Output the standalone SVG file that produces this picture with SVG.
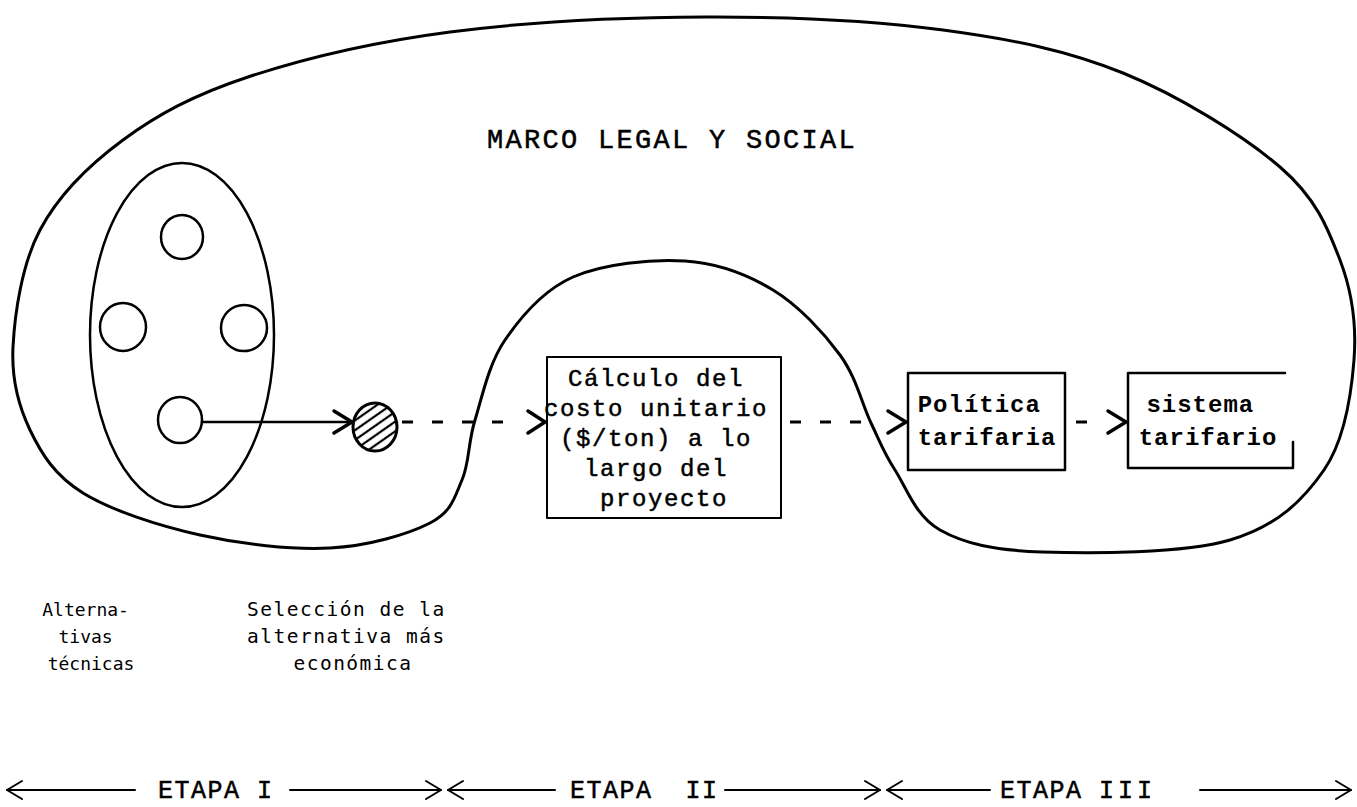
<svg xmlns="http://www.w3.org/2000/svg" width="1357" height="807" viewBox="0 0 1357 807">
<style>
.ln{fill:none;stroke:#000;stroke-linecap:round;stroke-linejoin:round}
.t{font-family:"Liberation Mono","Courier New",monospace;fill:#000;stroke:#000;stroke-width:0.5}
.tb{font-family:"Liberation Mono","Courier New",monospace;font-weight:bold;fill:#000}
.s{font-family:"DejaVu Sans Mono","Liberation Mono",monospace;fill:#000}
.dash{stroke-dasharray:11 19;stroke-linecap:butt}
</style>
<defs>
<pattern id="hatch" width="8" height="8" patternUnits="userSpaceOnUse" patternTransform="rotate(-35)">
<line x1="0" y1="4" x2="8" y2="4" stroke="#000" stroke-width="2.2"/>
</pattern>
</defs>
<rect width="1357" height="807" fill="#fff"/>
<g id="marco">
<path class="ln" stroke-width="3" d="M706,17 C788.2,16.7 873.5,20.7 943,30 C1012.5,39.3 1066.8,50.2 1123,73 C1179.2,95.8 1243.8,135.8 1280,167 C1316.2,198.2 1327.7,227.8 1340,260 C1352.3,292.2 1356.7,325 1354,360 C1351.3,395 1344.7,440 1324,470 C1303.3,500 1277,526.3 1230,540 C1183,553.7 1090.3,553.7 1042,552 C993.7,550.3 964.5,543.7 940,530 C915.5,516.3 906.5,487.8 895,470 C883.5,452.2 880.2,442.2 871,423 C861.8,403.8 856.3,377.2 840,355 C823.7,332.8 798.8,305.7 773,290 C747.2,274.3 718.3,263.2 685,261 C651.7,258.8 603,263.8 573,277 C543,290.2 521.3,316.2 505,340 C488.7,363.8 482.2,396.7 475,420 C467.8,443.3 469.5,462.8 462,480 C454.5,497.2 452,511.7 430,523 C408,534.3 368.3,546 330,548 C291.7,550 241.2,544.2 200,535 C158.8,525.8 111.3,510.5 83,493 C54.7,475.5 41.7,454.3 30,430 C18.3,405.7 11.3,380.3 13,347 C14.7,313.7 21.7,264.5 40,230 C58.3,195.5 88.3,165.5 123,140 C157.7,114.5 193.5,95 248,77 C302.5,59 373.7,42 450,32 C526.3,22 623.8,17.3 706,17 Z"/>
<text class="t" x="487" y="148" font-size="27" letter-spacing="2.3">MARCO LEGAL Y SOCIAL</text>
</g>
<g id="alternativas">
<ellipse class="ln" stroke-width="2.5" cx="182" cy="335" rx="92" ry="172"/>
<ellipse class="ln" stroke-width="2.5" cx="182" cy="237" rx="21" ry="22"/>
<ellipse class="ln" stroke-width="2.5" cx="123" cy="327" rx="23" ry="24"/>
<ellipse class="ln" stroke-width="2.5" cx="244" cy="328" rx="23" ry="23"/>
<ellipse class="ln" stroke-width="2.5" cx="180" cy="420" rx="22" ry="23"/>
</g>
<g id="seleccion">
<ellipse cx="375" cy="427" rx="22" ry="24" fill="url(#hatch)" stroke="#000" stroke-width="3"/>
</g>
<g id="calculo">
<rect class="ln" stroke-width="2" x="547" y="357" width="234" height="161"/>
<text class="t" font-size="24" letter-spacing="1.6" text-anchor="middle">
<tspan x="664" y="386">Cálculo del</tspan>
<tspan x="664" y="416">costo unitario</tspan>
<tspan x="664" y="446">($/ton) a lo</tspan>
<tspan x="664" y="476">largo del</tspan>
<tspan x="664" y="506">proyecto</tspan>
</text>
</g>
<g id="politica">
<rect class="ln" stroke-width="2.5" x="908" y="373" width="157" height="97"/>
<text class="tb" font-size="24" letter-spacing="1" text-anchor="middle">
<tspan x="987" y="412">Política</tspan>
<tspan x="987" y="445">tarifaria</tspan>
</text>
</g>
<g id="sistema">
<path class="ln" stroke-width="2.5" d="M1285,373 L1128,373 L1128,468 L1293,468 L1293,442"/>
<text class="tb" font-size="24" letter-spacing="1" text-anchor="middle">
<tspan x="1208" y="412">sistema</tspan>
<tspan x="1208" y="445">tarifario</tspan>
</text>
</g>
<g id="connectors">
<line class="ln" stroke-width="2.5" x1="202" y1="422" x2="350" y2="422"/>
<polyline class="ln" stroke-width="3.5" points="334,411 352,422 334,433"/>
<line class="ln dash" stroke-width="3" x1="402" y1="422" x2="515" y2="422"/>
<polyline class="ln" stroke-width="3.5" points="528,411 545,422 528,433"/>
<line class="ln dash" stroke-width="3" x1="790" y1="422" x2="870" y2="422"/>
<polyline class="ln" stroke-width="3.5" points="888,411 906,422 888,433"/>
<line class="ln dash" stroke-width="3" x1="1076" y1="422" x2="1087" y2="422"/>
<polyline class="ln" stroke-width="3.5" points="1108,411 1126,422 1108,433"/>
</g>
<g id="labels">
<text class="s" font-size="18" text-anchor="middle">
<tspan x="91" y="616">Alterna-</tspan>
<tspan x="91" y="643">tivas</tspan>
<tspan x="91" y="670">técnicas</tspan>
</text>
<text class="s" font-size="19.5" letter-spacing="1.5" text-anchor="middle">
<tspan x="353" y="616">Selección de la</tspan>
<tspan x="353" y="643">alternativa más</tspan>
<tspan x="353" y="670">económica</tspan>
</text>
</g>
<g id="etapas">
<g class="ln" stroke-width="2">
<line x1="7" y1="790" x2="135" y2="790"/><polyline points="22,781 7,790 22,799"/>
<line x1="290" y1="790" x2="441" y2="790"/><polyline points="426,781 441,790 426,799"/>
<line x1="448" y1="790" x2="555" y2="790"/><polyline points="463,781 448,790 463,799"/>
<line x1="725" y1="790" x2="880" y2="790"/><polyline points="865,781 880,790 865,799"/>
<line x1="887" y1="790" x2="990" y2="790"/><polyline points="902,781 887,790 902,799"/>
<line x1="1200" y1="790" x2="1351" y2="790"/><polyline points="1336,781 1351,790 1336,799"/>
</g>
<text class="t" font-size="25" letter-spacing="1.5" x="158" y="798">ETAPA I</text>
<text class="t" font-size="25" letter-spacing="1.5" x="570" y="798" xml:space="preserve">ETAPA  II</text>
<text class="t" font-size="25" letter-spacing="1.5" x="1000" y="798">ETAPA <tspan letter-spacing="4">III</tspan></text>
</g>
</svg>
